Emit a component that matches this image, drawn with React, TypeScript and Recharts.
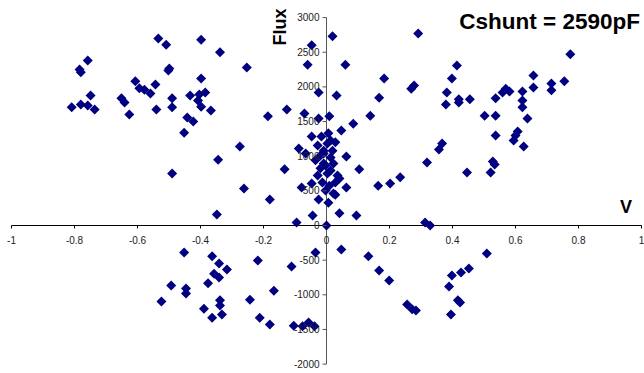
import { ScatterChart, Scatter, XAxis, YAxis, ReferenceLine } from "recharts";

// V / Flux pairs, grouped by region
const upperLeft: [number, number][] = [
  [-0.534, 2700], [-0.509, 2610], [-0.398, 2680], [-0.338, 2500], [-0.758, 2380],
  [-0.784, 2250], [-0.78, 2210], [-0.607, 2080], [-0.594, 1980], [-0.578, 1960],
  [-0.559, 1905], [-0.543, 2035], [-0.499, 2265], [-0.502, 2235], [-0.398, 2120],
  [-0.749, 1875], [-0.809, 1705], [-0.78, 1745], [-0.758, 1730], [-0.736, 1675],
  [-0.651, 1835], [-0.641, 1775], [-0.626, 1600], [-0.54, 1675], [-0.49, 1835],
  [-0.49, 1705], [-0.433, 1875], [-0.404, 1890], [-0.385, 1920], [-0.408, 1805],
  [-0.398, 1715], [-0.367, 1660], [-0.442, 1560], [-0.423, 1500], [-0.452, 1340],
  [-0.344, 950], [-0.49, 750], [-0.253, 2280], [-0.186, 1575], [-0.126, 1675],
  [-0.275, 1140], [-0.133, 810], [-0.262, 535], [-0.18, 375], [-0.348, 160],
];

const centre: [number, number][] = [
  [-0.047, 2600], [-0.06, 2320], [0.019, 2730], [0.06, 2320], [-0.025, 1920],
  [0.032, 1875], [-0.07, 1615], [-0.025, 1545], [0.009, 1575], [-0.047, 1285],
  [-0.016, 1285], [0.006, 1330], [0.047, 1370], [0.085, 1470], [-0.088, 1110],
  [0.028, 1200], [0.063, 995], [0.104, 810], [-0.079, 550], [-0.047, 605],
  [0.063, 550], [0.028, 445], [-0.025, 375], [-0.028, 1155], [0.003, 1185],
  [-0.066, 1040], [-0.035, 940], [-0.009, 1040], [0.013, 980], [0.022, 895],
  [-0.019, 825], [0.003, 750], [0.035, 720], [0.041, 680], [-0.028, 720],
  [-0.013, 620], [0.009, 575], [0.028, 620], [-0.003, 505], [0.006, 330],
  [0.022, 460], [-0.009, 895], [-0.009, 1080], [0.013, 1225], [-0.003, 865],
  [0.013, 795], [-0.019, 1010], [0.019, 1080], [-0.044, 145], [-0.095, 45],
  [0.041, 175], [0.095, 145], [0, 0],
];

const upperRight: [number, number][] = [
  [0.139, 1585], [0.167, 1845], [0.183, 2120], [0.278, 2020], [0.269, 1975],
  [0.291, 2770], [0.164, 575], [0.202, 605], [0.234, 695], [0.774, 2470],
  [0.414, 2310], [0.398, 2120], [0.382, 1920], [0.379, 1745], [0.42, 1820],
  [0.42, 1775], [0.455, 1820], [0.657, 2165], [0.657, 1990], [0.714, 2050],
  [0.714, 1950], [0.755, 2080], [0.569, 1975], [0.559, 1920], [0.581, 1935],
  [0.537, 1835], [0.622, 1935], [0.622, 1805], [0.622, 1705], [0.502, 1585],
  [0.537, 1585], [0.638, 1545], [0.537, 1300], [0.607, 1355], [0.6, 1300],
  [0.594, 1225], [0.626, 1140], [0.367, 1185], [0.357, 1095], [0.319, 910],
  [0.446, 765], [0.528, 925], [0.534, 880], [0.521, 765], [0.313, 45], [0.329, 0],
];

const lower: [number, number][] = [
  [-0.452, -390], [-0.363, -445], [-0.341, -550], [-0.316, -635], [-0.357, -695],
  [-0.341, -750], [-0.376, -835], [-0.493, -865], [-0.446, -910], [-0.446, -980],
  [-0.524, -1095], [-0.338, -1080], [-0.338, -1155], [-0.389, -1200], [-0.363, -1330],
  [-0.332, -1285], [-0.218, -505], [-0.111, -590], [-0.035, -390], [0.047, -345],
  [0.133, -445], [0.167, -650], [0.199, -795], [-0.167, -940], [-0.243, -1070],
  [-0.212, -1330], [-0.18, -1430], [-0.104, -1445], [-0.076, -1455], [-0.057, -1400],
  [-0.038, -1455], [0.256, -1140], [0.272, -1210], [0.284, -1225], [0.509, -405],
  [0.452, -620], [0.427, -680], [0.398, -720], [0.389, -880], [0.417, -1080],
  [0.424, -1110], [0.395, -1285],
];

const xTicks = [-1, -0.8, -0.6, -0.4, -0.2, 0, 0.2, 0.4, 0.6, 0.8, 1];
const xTickLabels = ["-1", "-0.8", "-0.6", "-0.4", "-0.2", "0", "0.2", "0.4", "0.6", "0.8", "1"];
const yTicks = [-2000, -1500, -1000, -500, 0, 500, 1000, 1500, 2000, 2500, 3000];
const yTickLabels = ["-2000", "-1500", "-1000", "-500", "0", "500", "1000", "1500", "2000", "2500", "3000"];

const points = [...upperLeft, ...centre, ...upperRight, ...lower].map(([v, flux]) => ({ v, flux }));

// the chart fills the whole window (body margin removed below)
const W = 644;
const H = 373;
const AXIS_SIZE = 1;
const margin = { top: 17.6, right: 2.5, bottom: 8.9 - AXIS_SIZE, left: 11.5 - AXIS_SIZE };
const plotLeft = margin.left + AXIS_SIZE;
const plotW = W - plotLeft - margin.right;
const plotH = H - margin.top - margin.bottom - AXIS_SIZE;
// where the axes cross (value 0 on both)
const X0 = plotLeft + plotW / 2;
const Y0 = margin.top + plotH * (3000 / 5000);

const font = "'Liberation Sans', Arial, sans-serif";

const Diamond = (props: any) => {
  const { cx, cy } = props;
  const r = 5;
  return (
    <polygon
      points={`${cx},${cy - r} ${cx + r},${cy} ${cx},${cy + r} ${cx - r},${cy}`}
      fill="#000080"
    />
  );
};

const renderXTick = (props: any) => {
  const { x, payload } = props;
  const i = xTicks.indexOf(payload.value);
  return (
    <g key={`xt-${i}`}>
      <line x1={x} x2={x} y1={Y0} y2={Y0 + 3} stroke="#000" />
      <text x={x} y={Y0 + 18.5} textAnchor="middle" fontSize={10} fontFamily={font} fill="#222">
        {xTickLabels[i]}
      </text>
    </g>
  );
};

const renderYTick = (props: any) => {
  const { y, payload } = props;
  const i = yTicks.indexOf(payload.value);
  return (
    <g key={`yt-${i}`}>
      <line x1={X0 - 4} x2={X0} y1={y} y2={y} stroke="#555" />
      <text x={X0 - 7} y={y + 3.5} textAnchor="end" fontSize={10} fontFamily={font} fill="#222">
        {yTickLabels[i]}
      </text>
    </g>
  );
};

export default function App() {
  return (
    <div style={{ position: "relative", width: W, height: H }}>
      <style>{"body { margin: 0; }"}</style>
      <ScatterChart width={W} height={H} margin={margin}>
        <XAxis
          type="number"
          dataKey="v"
          domain={[-1, 1]}
          ticks={xTicks}
          interval={0}
          height={AXIS_SIZE}
          axisLine={false}
          tickLine={false}
          tick={renderXTick}
          allowDataOverflow
        />
        <YAxis
          type="number"
          dataKey="flux"
          domain={[-2000, 3000]}
          ticks={yTicks}
          interval={0}
          width={AXIS_SIZE}
          axisLine={false}
          tickLine={false}
          tick={renderYTick}
          allowDataOverflow
        />
        <ReferenceLine x={0} stroke="#555" strokeWidth={1} />
        <ReferenceLine y={0} stroke="#000" strokeWidth={1} />
        <Scatter data={points} shape={<Diamond />} isAnimationActive={false} />
      </ScatterChart>
      <svg
        width={W}
        height={H}
        style={{ position: "absolute", left: 0, top: 0, pointerEvents: "none" }}
      >
        <text x={640} y={29} textAnchor="end" fontSize={22.5} fontWeight="bold" fontFamily={font} fill="#000">
          Cshunt = 2590pF
        </text>
        <text
          transform={`translate(${X0 - 40.5},27) rotate(-90)`}
          textAnchor="middle"
          fontSize={18}
          fontWeight="bold"
          fontFamily={font}
          fill="#000"
        >
          Flux
        </text>
        <text x={626} y={213} textAnchor="middle" fontSize={18} fontWeight="bold" fontFamily={font} fill="#000">
          V
        </text>
      </svg>
    </div>
  );
}
